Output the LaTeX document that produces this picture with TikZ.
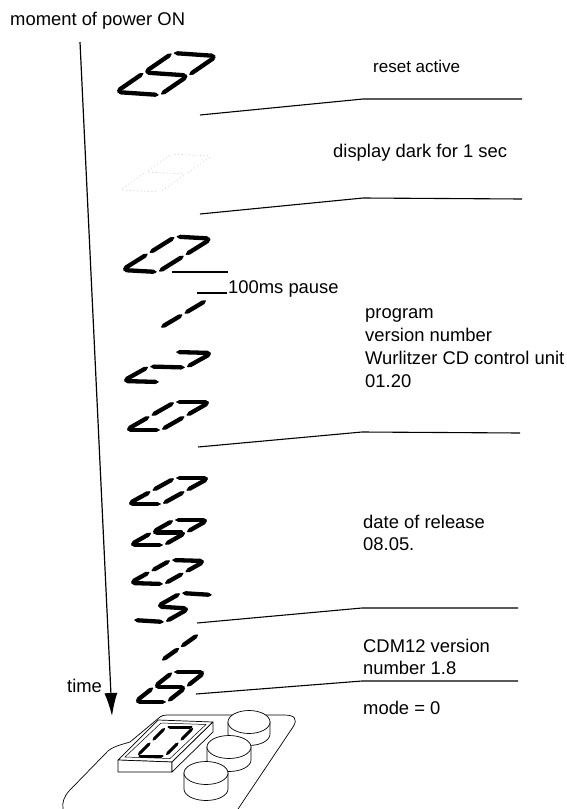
\documentclass[tikz,border=0pt]{standalone}
\usepackage{fontspec}
\setmainfont{Liberation Sans}
\usetikzlibrary{arrows.meta}

% segment lists of a slanted seven-segment digit, in unit cell coordinates
% (0,0) bottom left, (1,0) bottom right, (0,1)/(1,1) middle, (0,2)/(1,2) top
\def\dEight{0/2/1/2,1/2/1/1,1/1/1/0,0/0/1/0,0/1/0/0,0/2/0/1,0/1/1/1}
\def\dZero{0/2/1/2,1/2/1/1,1/1/1/0,0/0/1/0,0/1/0/0,0/2/0/1}
\def\dOne{1/2/1/1,1/1/1/0}
\def\dTwo{0/2/1/2,1/2/1/1,0/1/1/1,0/1/0/0,0/0/1/0}
\def\dFive{0/2/1/2,0/2/0/1,0/1/1/1,1/1/1/0,0/0/1/0}

% #1 name, #2 origin, #3 right vector, #4 half-height vector, #5 segments, #6 style
% a lit segment is a thick core stroke over a thinner, longer one: a tapered bar
\newcommand\sevenseg[6]{%
  \begin{scope}[cm={#3,#4,(#2)}]
    \coordinate (#1) at (0.5,1);
    \foreach \xa/\ya/\xb/\yb in #5 {%
      \draw[#6 tip] (\xa,\ya) -- (\xb,\yb);
      \draw[#6] (\xa,\ya) -- (\xb,\yb);}
  \end{scope}}

% cylinder knob: #1 name, #2 centre of top face, #3 x radius, #4 y radius, #5 height
\newcommand\knob[5]{%
  \coordinate (#1) at (#2);
  \filldraw[knobline,fill=white] ([xshift=-#3pt]#1) -- ++(0,-#5)
     arc[start angle=180,end angle=360,x radius=#3,y radius=#4] -- ++(0,#5) -- cycle;
  \filldraw[knobline,fill=white] (#1) ellipse[x radius=#3,y radius=#4];}

\begin{document}
\begin{tikzpicture}[x=1pt,y=1pt,
  seg/.style={line width=4.3pt,line cap=round,shorten <=4.8pt,shorten >=4.8pt},
  seg tip/.style={line width=2pt,line cap=round,shorten <=2.2pt,shorten >=2.2pt},
  smallseg/.style={line width=3pt,line cap=round,shorten <=3.8pt,shorten >=3.8pt},
  smallseg tip/.style={line width=1.4pt,line cap=round,shorten <=2.2pt,shorten >=2.2pt},
  darkseg/.style={line width=0.9pt,line cap=round,gray!35,dash pattern=on 0.4pt off 3.2pt,shorten <=3pt,shorten >=3pt},
  darkseg tip/.style={draw=none},
  sep/.style={line width=1.1pt},
  knobline/.style={line width=0.7pt},
  devline/.style={line width=0.7pt,line join=round},
  lbl/.style={anchor=base west,inner sep=0pt,font=\fontsize{18.4}{22}\selectfont},
  smalllbl/.style={anchor=base west,inner sep=0pt,font=\fontsize{17}{20}\selectfont},
  timearrow/.style={line width=1.2pt,-{Latex[length=23pt,width=13pt]}}]

\useasboundingbox (0,0) rectangle (567,-809);

% time axis
\coordinate (t0) at (80,-42);
\coordinate (t1) at (112,-716);
\draw[timearrow] (t0) -- (t1);
\node[lbl] (start) at (10,-25) {moment of power ON};
\node[lbl] (time) at (67,-692) {time};

% display states along the time axis
\sevenseg{d1}{116,-92}{44,-3}{28.3,19.5}{\dEight}{seg}
\sevenseg{d2}{120,-190}{40,-2}{26,18}{\dEight}{darkseg}
\sevenseg{d3}{122,-270}{36,-2}{26.7,16.7}{\dZero}{seg}
\sevenseg{d4}{124,-327}{36,-1}{23.5,14}{\dOne}{seg}
\sevenseg{d5}{123,-381}{37,-1}{26,14.5}{\dTwo}{seg}
\sevenseg{d6}{126,-430}{35,0}{24.5,14}{\dZero}{seg}
\sevenseg{d7}{128,-504}{34,0}{23.5,13}{\dZero}{seg}
\sevenseg{d8}{130,-545}{34,0}{22,12.5}{\dEight}{seg}
\sevenseg{d9}{130,-583}{34,-1}{20.5,11.5}{\dZero}{seg}
\sevenseg{d10}{133,-620}{32,-2}{24,13.5}{\dFive}{seg}
\sevenseg{d11}{128,-661}{33,0}{19,13.5}{\dOne}{seg}
\sevenseg{d12}{135,-702}{32,0}{19,15}{\dEight}{seg}

% phase separators
\coordinate (s1a) at (200,-115); \coordinate (s1b) at (363,-99);  \coordinate (s1c) at (522,-99);
\coordinate (s2a) at (200,-214); \coordinate (s2b) at (363,-198); \coordinate (s2c) at (522,-199);
\coordinate (s3a) at (198,-447); \coordinate (s3b) at (362,-432); \coordinate (s3c) at (520,-433);
\coordinate (s4a) at (197,-623); \coordinate (s4b) at (362,-608); \coordinate (s4c) at (518,-608);
\coordinate (s5a) at (196,-694); \coordinate (s5b) at (362,-681); \coordinate (s5c) at (518,-681);
\draw[sep] (s1a) -- (s1b) -- (s1c);
\draw[sep] (s2a) -- (s2b) -- (s2c);
\draw[sep] (s3a) -- (s3b) -- (s3c);
\draw[sep] (s4a) -- (s4b) -- (s4c);
\draw[sep] (s5a) -- (s5b) -- (s5c);

% pause marks
\coordinate (p1a) at (172,-272); \coordinate (p1b) at (228,-272);
\coordinate (p2a) at (197,-293); \coordinate (p2b) at (227,-293);
\draw[sep] (p1a) -- (p1b);
\draw[sep] (p2a) -- (p2b);

% phase labels
\node[smalllbl] (reset) at (373,-72) {reset active};
\node[lbl] (dark) at (333,-157) {display dark for 1 sec};
\node[lbl] (pause) at (228,-293) {100ms pause};
\node[lbl] (prog1) at (365,-318) {program};
\node[lbl] (prog2) at (365,-341) {version number};
\node[lbl] (prog3) at (365,-364) {Wurlitzer CD control unit};
\node[lbl] (prog4) at (365,-387) {01.20};
\node[lbl] (date1) at (363,-528) {date of release};
\node[lbl] (date2) at (363,-550) {08.05.};
\node[lbl] (cdm1) at (363,-652) {CDM12 version};
\node[lbl] (cdm2) at (363,-674) {number 1.8};
\node[lbl] (mode) at (363,-714) {mode = 0};

% control unit: base plate
\draw[devline] (63,-809) .. controls (62,-802) and (64,-797) .. (69,-791)
  -- (106,-753) .. controls (111,-747) and (120,-745) .. (130,-742)
  -- (160,-717) .. controls (162,-715.5) and (164,-715) .. (167,-715)
  -- (284,-715) .. controls (295,-715) and (298,-719) .. (293,-727)
  -- (238,-809);

% raised display housing
\coordinate (bA) at (118,-760); \coordinate (bB) at (172,-762);
\coordinate (bC) at (213,-722); \coordinate (bD) at (158,-720);
\coordinate (bE) at (172,-772); \coordinate (bF) at (118,-772);
\coordinate (bG) at (213,-732);
\filldraw[devline,fill=white] (bA) -- (bB) -- (bC) -- (bD) -- cycle;
\filldraw[devline,fill=white] (bA) -- (bB) -- (bE) -- (bF) -- cycle;
\filldraw[devline,fill=white] (bB) -- (bC) -- (bG) -- (bE) -- cycle;
\coordinate (wA) at (125,-757); \coordinate (wB) at (170,-758.5);
\coordinate (wC) at (206,-724.5); \coordinate (wD) at (161,-723);
\draw[line width=0.5pt] (wA) -- (wB) -- (wC) -- (wD) -- cycle;
\sevenseg{dev}{137,-756}{28,0}{14.5,14.5}{\dZero}{smallseg}

% push buttons
\knob{k1}{249,-722}{21}{11.5}{12}
\knob{k2}{229,-747}{22}{11.5}{13}
\knob{k3}{206,-773}{22}{11.5}{16}

\end{tikzpicture}
\end{document}
